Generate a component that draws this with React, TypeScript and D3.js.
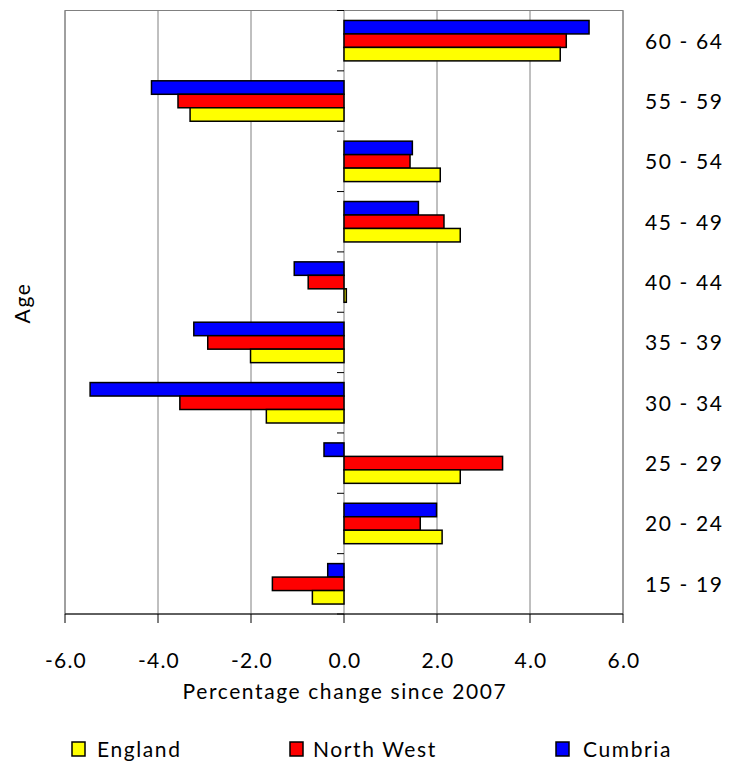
import React from 'react';
import * as d3 from 'd3';

// Age bands, top to bottom as drawn
const AGE_BANDS = ['60 - 64', '55 - 59', '50 - 54', '45 - 49', '40 - 44', '35 - 39', '30 - 34', '25 - 29', '20 - 24', '15 - 19'];
const SERIES = ['Cumbria', 'North West', 'England']; // order within each band, top to bottom
const LEGEND_ORDER = ['England', 'North West', 'Cumbria'];

const ENGLAND = [4.65, -3.31, 2.07, 2.5, 0.05, -2.01, -1.67, 2.5, 2.11, -0.68];
const NORTH_WEST = [4.78, -3.57, 1.42, 2.15, -0.77, -2.93, -3.53, 3.41, 1.64, -1.54];
const CUMBRIA = [5.27, -4.14, 1.47, 1.6, -1.07, -3.23, -5.46, -0.43, 1.99, -0.35];

const X_TICKS = [-6, -4, -2, 0, 2, 4, 6];

const COLORS: Record<string, string> = {
  England: '#ffff00',
  'North West': '#ff0000',
  Cumbria: '#0000ff',
};

const VALUES: Record<string, number[]> = {
  England: ENGLAND,
  'North West': NORTH_WEST,
  Cumbria: CUMBRIA,
};

const W = 729;
const H = 763;
const FONT = 'Lato, "Open Sans", sans-serif';
const LS = 1.6; // letter spacing to mimic the wider original face

const App: React.FC = () => {
  const left = 65, right = 623, top = 10.5, bottom = 614;

  const x = d3.scaleLinear().domain([-6, 6]).range([left, right]);
  const y = d3.scaleBand<string>().domain(AGE_BANDS).range([top, bottom]);
  const bw = y.bandwidth();
  const pad = bw * 0.165;
  const inner = d3.scaleBand<string>().domain(SERIES).range([pad, bw - pad]);

  const legendBox = [72, 290, 556];
  const legendText = [97, 313, 583];

  return (
    <div style={{ position: 'absolute', left: 0, top: 0, width: W, height: H, overflow: 'hidden' }}>
      <svg width={W} height={H} style={{ display: 'block', fontFamily: FONT }}>
        <rect width={W} height={H} fill="#fff" />
        {/* gridlines */}
        {X_TICKS.map(t => (
          <line key={t} x1={x(t)} x2={x(t)} y1={top} y2={bottom} stroke="#808080" strokeWidth={1} />
        ))}
        {/* plot border */}
        <rect x={left} y={top} width={right - left} height={bottom - top} fill="none" stroke="#808080" strokeWidth={1} />

        {/* bars */}
        {AGE_BANDS.map((band, i) => (
          <g key={band} transform={`translate(0,${y(band)})`}>
            {SERIES.map(s => {
              const v = VALUES[s][i];
              const x0 = x(Math.min(0, v));
              const x1 = x(Math.max(0, v));
              return (
                <rect
                  key={s}
                  x={x0}
                  y={inner(s)}
                  width={Math.max(x1 - x0, 1)}
                  height={inner.bandwidth()}
                  fill={COLORS[s]}
                  stroke="#000"
                  strokeWidth={1.5}
                />
              );
            })}
          </g>
        ))}

        {/* category ticks at zero */}
        {d3.range(AGE_BANDS.length + 1).map(i => {
          const yy = top + i * bw;
          return <line key={i} x1={x(0) - 7} x2={x(0)} y1={yy} y2={yy} stroke="#000" strokeWidth={1} />;
        })}

        {/* category labels */}
        {AGE_BANDS.map(band => (
          <text key={band} x={645} y={(y(band) ?? 0) + bw / 2 + 8} fontSize={21} letterSpacing={LS} fill="#000">
            {band}
          </text>
        ))}

        {/* x axis */}
        <line x1={left} x2={right} y1={bottom} y2={bottom} stroke="#000" strokeWidth={1} />
        {X_TICKS.map(t => (
          <g key={t}>
            <line x1={x(t)} x2={x(t)} y1={bottom} y2={bottom + 9} stroke="#000" strokeWidth={1} />
            <text x={x(t) + 1} y={668} textAnchor="middle" fontSize={21} letterSpacing={1.2} fill="#000">
              {t.toFixed(1)}
            </text>
          </g>
        ))}
        <text x={x(0) + 1} y={699} textAnchor="middle" fontSize={21} letterSpacing={LS} fill="#000">
          Percentage change since 2007
        </text>

        <text transform="translate(30,303) rotate(-90)" textAnchor="middle" fontSize={21} letterSpacing={LS} fill="#000">
          Age
        </text>

        {/* legend */}
        {LEGEND_ORDER.map((s, i) => (
          <g key={s}>
            <rect x={legendBox[i]} y={742} width={13} height={14} fill={COLORS[s]} stroke="#000" strokeWidth={1.5} />
            <text x={legendText[i]} y={757} fontSize={21} letterSpacing={LS} fill="#000">
              {s}
            </text>
          </g>
        ))}
      </svg>
    </div>
  );
};

export default App;
